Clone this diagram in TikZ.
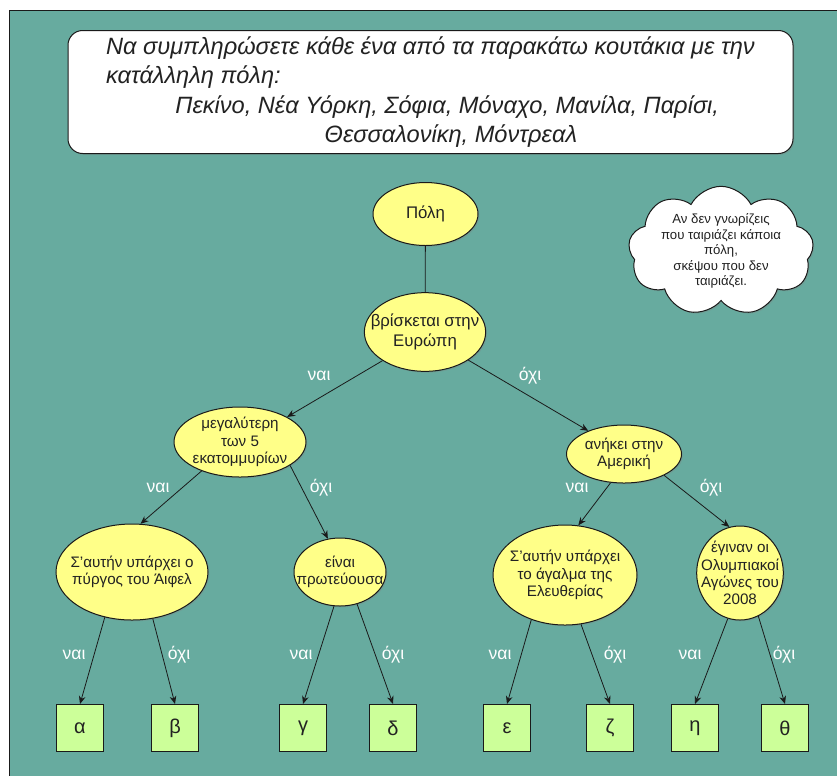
\documentclass[tikz,border=0pt]{standalone}
\usepackage{fontspec}
\setmainfont{Liberation Sans}
\usetikzlibrary{shapes.geometric,shapes.symbols,arrows.meta,shadows}

\definecolor{bgteal}{HTML}{67AB9F}
\definecolor{qyellow}{HTML}{FFFF88}
\definecolor{ansgreen}{HTML}{CCFF99}
\definecolor{txtgrey}{HTML}{222222}
\definecolor{edgegrey}{HTML}{1A1A1A}

\tikzset{every picture/.style={line width=0.75pt}}
\tikzset{
  qnode/.style={ellipse, draw=edgegrey, fill=qyellow, inner sep=0pt,
    drop shadow={opacity=0.3, shadow xshift=1pt, shadow yshift=-1pt}},
  qtext/.style={font=\fontsize{11.4}{12.9}\selectfont, text=txtgrey, align=center},
  qtextbig/.style={qtext, font=\fontsize{12.6}{14.4}\selectfont},
  ansbox/.style={rectangle, draw=edgegrey, fill=ansgreen, minimum width=35.25pt,
    minimum height=35.25pt, inner sep=0pt, font=\fontsize{15}{18}\selectfont, text=txtgrey},
  reply/.style={text=white, font=\fontsize{13.2}{15}\selectfont, inner sep=0pt},
  arr/.style={draw=edgegrey, line width=0.6pt, -{Stealth[length=6pt,width=5pt]}},
}

\begin{document}
\begin{tikzpicture}[x=0.75pt,y=0.75pt,yscale=-1,xscale=1]
\useasboundingbox (0,0) rectangle (837,776);

% Background
\fill [bgteal] (9,10) rectangle (837,776) ;
\draw [edgegrey] (837,10) -- (9,10) -- (9,776) ;

% Title
\node [draw=edgegrey, fill=white, rounded corners=11pt, minimum width=543.75pt, minimum height=92.25pt,
  inner sep=0pt, align=left, text=txtgrey, font=\itshape\fontsize{17.7}{21.9}\selectfont,
  drop shadow={opacity=0.3, shadow xshift=1pt, shadow yshift=-1pt}] (title) at (430.5,92)
  {Να συμπληρώσετε κάθε ένα από τα παρακάτω κουτάκια με την\\
   κατάλληλη πόλη:\\
   \hspace*{52pt}Πεκίνο, Νέα Υόρκη, Σόφια, Μόναχο, Μανίλα, Παρίσι,\\
   \hspace*{164pt}Θεσσαλονίκη, Μόντρεαλ};

% Hint cloud
\node [cloud, cloud puffs=9, cloud puff arc=125, cloud ignores aspect, draw=edgegrey, fill=white, inner sep=0pt,
  minimum width=139pt, minimum height=97pt,
  drop shadow={opacity=0.3, shadow xshift=1pt, shadow yshift=-1pt},
  label={[text=txtgrey, align=center, font=\fontsize{9.9}{11.6}\selectfont]center:Αν δεν γνωρίζεις\\που ταιριάζει κάποια\\πόλη,\\σκέψου που δεν\\ταιριάζει.}] (hint) at (721,251) {};

% Questions
\node [qnode, minimum width=78.75pt, minimum height=47.25pt, label={[qtextbig]center:Πόλη}] (pole) at (425.5,214) {};
\node [qnode, minimum width=91pt, minimum height=59pt, label={[qtextbig]center:βρίσκεται στην\\Ευρώπη}] (europe) at (425,332) {};
\node [qnode, minimum width=99pt, minimum height=52.5pt, label={[qtext]center:μεγαλύτερη\\των 5\\εκατομμυρίων}] (big) at (240,442) {};
\node [qnode, minimum width=86.25pt, minimum height=43.5pt, label={[qtext]center:ανήκει στην\\Αμερική}] (america) at (624,454) {};
\node [qnode, minimum width=114pt, minimum height=72pt, label={[qtext]center:Σ'αυτήν υπάρχει ο\\πύργος του Άιφελ}] (eiffel) at (132,572) {};
\node [qnode, minimum width=69pt, minimum height=51pt, label={[qtext]center:είναι\\πρωτεύουσα}] (capital) at (340,572) {};
\node [qnode, minimum width=108pt, minimum height=75pt, label={[qtext]center:Σ'αυτήν υπάρχει\\το άγαλμα της\\Ελευθερίας}] (liberty) at (565,575) {};
\node [qnode, minimum width=65pt, minimum height=70.5pt, label={[qtext]center:έγιναν οι\\Ολυμπιακοί\\Αγώνες του\\2008}] (olymp) at (740,573) {};

% Answer boxes
\node [ansbox] (alpha) at (80,728) {α};
\node [ansbox] (beta) at (175,728) {β};
\node [ansbox] (gamma) at (303,728) {γ};
\node [ansbox] (delta) at (393,728) {δ};
\node [ansbox] (epsilon) at (507,728) {ε};
\node [ansbox] (zeta) at (610,728) {ζ};
\node [ansbox] (eta) at (695,728) {η};
\node [ansbox] (theta) at (785,728) {θ};

% Connectors
\draw [edgegrey, line width=0.6pt] (pole) -- (europe) ;
\draw [arr] (europe.214) -- (big.28) ;
\draw [arr] (europe.327) -- (america.147) ;
\draw [arr] (big.217) -- (eiffel.80) ;
\draw [arr] (big.335) -- (capital.110) ;
\draw [arr] (america.245) -- (liberty.75) ;
\draw [arr] (america.332) -- (olymp.103) ;
\draw [arr] (eiffel.239) -- (alpha.north) ;
\draw [arr] (eiffel.294) -- (beta.north) ;
\draw [arr] (capital.260) -- (gamma.north) ;
\draw [arr] (capital.298) -- (delta.north) ;
\draw [arr] (liberty.233) -- (epsilon.north) ;
\draw [arr] (liberty.288) -- (zeta.north) ;
\draw [arr] (olymp.255) -- (eta.north) ;
\draw [arr] (olymp.293) -- (theta.north) ;

% Text Node
\node [reply] (yes1) at (319,376) {ναι};
\node [reply] (no1) at (530,376) {όχι};
\node [reply] (yes2) at (158,488) {ναι};
\node [reply] (no2) at (321,488) {όχι};
\node [reply] (yes3) at (577,488) {ναι};
\node [reply] (no3) at (711,488) {όχι};
\node [reply] (yes4) at (74,655) {ναι};
\node [reply] (no4) at (179,655) {όχι};
\node [reply] (yes5) at (301,655) {ναι};
\node [reply] (no5) at (393,655) {όχι};
\node [reply] (yes6) at (500,655) {ναι};
\node [reply] (no6) at (615,655) {όχι};
\node [reply] (yes7) at (690,655) {ναι};
\node [reply] (no7) at (784,655) {όχι};

\end{tikzpicture}
\end{document}
